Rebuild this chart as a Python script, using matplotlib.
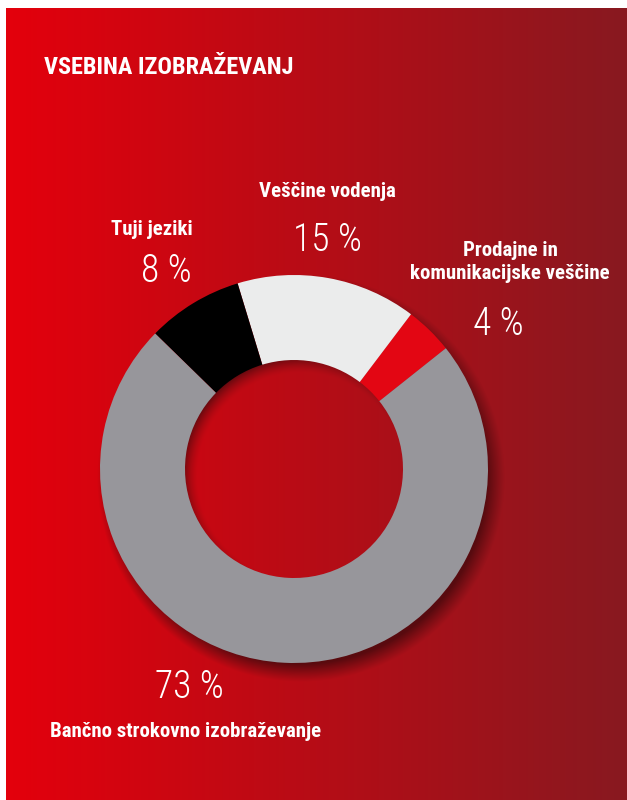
import numpy as np
import matplotlib
matplotlib.use("Agg")
import matplotlib.pyplot as plt

# training content shares (%)
categories = ["Prodajne in\nkomunikacijske veščine", "Veščine vodenja", "Tuji jeziki",
              "Bančno strokovno izobraževanje"]
shares = [4, 15, 8, 73]
colors = ["#E30613", "#EBECEC", "#000000", "#97969B"]

W, H = 627, 800
cx, cy = 294, 469          # donut centre in pixel coords (y down)
r_out, r_in = 194, 109

fig = plt.figure(figsize=(W / 100, H / 100), dpi=100)
fig.patch.set_facecolor("white")
ax = fig.add_axes([0, 0, 1, 1])

# red panel with left-to-right gradient, plus the donut's soft shadows
x0, y0 = 6, 8
px = np.arange(x0, W) + 0.5
py = np.arange(y0, H) + 0.5
X, Y = np.meshgrid(px, py)
t = (X - x0) / (W - x0)
left = np.array([228, 0, 12]) / 255
right = np.array([136, 25, 32]) / 255
img = left[None, None, :] * (1 - t[..., None]) + right[None, None, :] * t[..., None]

shade = np.array([80, 10, 14]) / 255
d_c = np.hypot(X - cx, Y - cy)

# drop shadow outside the ring (light from top-left)
d_out = np.hypot(X - (cx + 7), Y - (cy + 9))
s_out = np.clip((r_out + 10 - d_out) / 18, 0, 1) ** 1.1 * 0.9
s_out[d_c < r_out - 2] = 0
# inner shadow inside the hole
d_in = np.hypot(X - (cx + 7), Y - (cy + 7))
s_in = np.clip((d_in - 103) / 16, 0, 1) ** 1.5 * 0.8
s_in[d_c > r_in + 1] = 0
s = np.maximum(s_out, s_in)[..., None]
img = img * (1 - s) + shade[None, None, :] * s

ax.imshow(img, extent=(x0, W, 0, H - y0), origin="upper", interpolation="bilinear", zorder=0)

ax.pie(shares, colors=colors, startangle=38.5, counterclock=True,
       radius=r_out, center=(cx, H - cy),
       wedgeprops=dict(width=r_out - r_in, linewidth=0))

ax.set_xlim(0, W)
ax.set_ylim(0, H)
ax.set_aspect("auto")
ax.axis("off")

label_font = dict(family=["Roboto Condensed", "DejaVu Sans"], weight="bold", color="white")
pct_font = dict(family=["Roboto Condensed", "DejaVu Sans"], weight="light", color="white")

ax.text(44, H - 74, "VSEBINA IZOBRAŽEVANJ", fontsize=17.5, ha="left", va="baseline", **label_font)

# (label x, label baseline, pct x, pct baseline) in pixel coords
label_pos = [(510, 256, 498, 335), (327, 197, 327, 251), (152, 235, 166, 282), (50, 737, 189, 698)]

for name, val, (lx, ly, vx, vy) in zip(categories, shares, label_pos):
    if name.startswith("Bančno"):
        ax.text(lx, H - ly, name, fontsize=15, ha="left", va="baseline", **label_font)
    elif "\n" in name:
        first, second = name.split("\n")
        ax.text(lx, H - ly, first, fontsize=15, ha="center", va="baseline", **label_font)
        ax.text(lx, H - ly - 23, second, fontsize=15, ha="center", va="baseline", **label_font)
    else:
        ax.text(lx, H - ly, name, fontsize=15, ha="center", va="baseline", **label_font)
    ax.text(vx, H - vy, f"{val} %", fontsize=27, ha="center", va="baseline", **pct_font)

fig.savefig("out.png", dpi=100)
